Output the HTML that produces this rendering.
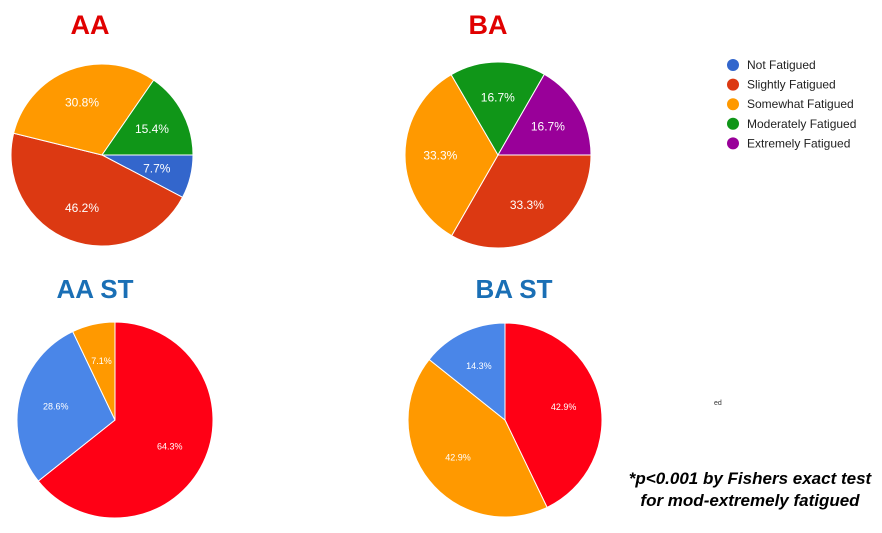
<!DOCTYPE html>
<html><head><meta charset="utf-8"><style>
body{margin:0;background:#fff;width:882px;height:528px;overflow:hidden}
svg text{font-family:"Liberation Sans",Arial,sans-serif}
</style></head><body>
<svg id="c" width="882" height="528">
<text x="90" y="34" font-size="27" font-weight="bold" fill="#e00000" text-anchor="middle">AA</text>
<text x="488" y="34" font-size="27" font-weight="bold" fill="#e00000" text-anchor="middle">BA</text>
<text x="95" y="298" font-size="26" font-weight="bold" fill="#1a6fb5" text-anchor="middle">AA ST</text>
<text x="514" y="298" font-size="26" font-weight="bold" fill="#1a6fb5" text-anchor="middle">BA ST</text>
<text x="714" y="405" font-size="7" fill="#333">ed</text>
<text x="750" y="484" font-size="17" font-weight="bold" font-style="italic" fill="#000" text-anchor="middle">*p&lt;0.001 by Fishers exact test</text>
<text x="750" y="506" font-size="17" font-weight="bold" font-style="italic" fill="#000" text-anchor="middle">for mod-extremely fatigued</text>
<g id="legend"></g>
</svg>
<script>
const legendLabels = ["Not Fatigued","Slightly Fatigued","Somewhat Fatigued","Moderately Fatigued","Extremely Fatigued"];
const legendColors = ["#3366cc","#dc3912","#ff9900","#109618","#990099"];
const aaValues = [7.7, 46.2, 30.8, 15.4];
const aaColors = ["#3366cc","#dc3912","#ff9900","#109618"];
const baValues = [33.3, 33.3, 16.7, 16.7];
const baColors = ["#dc3912","#ff9900","#109618","#990099"];
const aaStValues = [64.3, 28.6, 7.1];
const aaStColors = ["#ff0015","#4a86e8","#ff9900"];
const baStValues = [42.9, 42.9, 14.3];
const baStColors = ["#ff0015","#ff9900","#4a86e8"];

const NS="http://www.w3.org/2000/svg";
const svg=document.getElementById('c');
function pie(name,vals,cols,cx,cy,r,start,fs){
  const tot=vals.reduce((a,b)=>a+b,0);
  let a=start;
  const g=document.createElementNS(NS,'g');
  
  
  svg.appendChild(g);
  vals.forEach((v,i)=>{
    const sweep=v/tot*2*Math.PI;
    const a2=a+sweep;
    const x1=cx+r*Math.cos(a),y1=cy+r*Math.sin(a),x2=cx+r*Math.cos(a2),y2=cy+r*Math.sin(a2);
    const p=document.createElementNS(NS,'path');
    p.setAttribute('d',`M${cx},${cy}L${x1},${y1}A${r},${r} 0 ${sweep>Math.PI?1:0} 1 ${x2},${y2}Z`);
    p.setAttribute('fill',cols[i]);p.setAttribute('stroke','#fff');p.setAttribute('stroke-width','1');
    
    
    g.appendChild(p);
    const m=(a+a2)/2, lr=r*0.62;
    const t=document.createElementNS(NS,'text');
    t.setAttribute('x',cx+lr*Math.cos(m));t.setAttribute('y',cy+lr*Math.sin(m)+fs*0.35);
    t.setAttribute('text-anchor','middle');t.setAttribute('font-size',fs);t.setAttribute('fill','#fff');
    t.textContent=v.toFixed(1)+'%';
    
    
    g.appendChild(t);
    a=a2;
  });
}
pie('pie-aa',aaValues,aaColors,102,155,91,0,12);
pie('pie-ba',baValues,baColors,498,155,93,0,12);
pie('pie-aa-st',aaStValues,aaStColors,115,420,98,-Math.PI/2,9);
pie('pie-ba-st',baStValues,baStColors,505,420,97,-Math.PI/2,9);
const lg=document.getElementById('legend');


legendLabels.forEach((l,i)=>{
  const y=65+i*19.6;
  const c=document.createElementNS(NS,'circle');
  c.setAttribute('cx',733);c.setAttribute('cy',y);c.setAttribute('r',6);c.setAttribute('fill',legendColors[i]);
  
  
  lg.appendChild(c);
  const t=document.createElementNS(NS,'text');
  t.setAttribute('x',747);t.setAttribute('y',y+4);t.setAttribute('font-size',12);t.setAttribute('fill','#222');
  t.textContent=l;
  
  
  lg.appendChild(t);
});
</script>
</body></html>
